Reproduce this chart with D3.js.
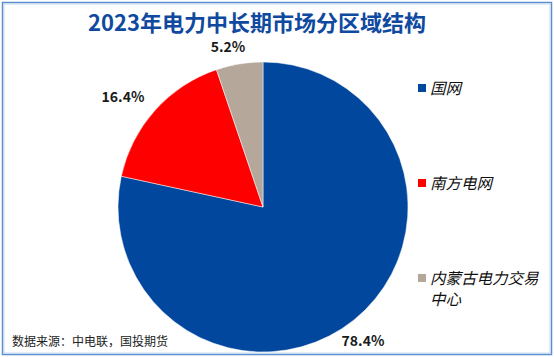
<!DOCTYPE html>
<html><head><meta charset="utf-8">
<script src="https://cdn.jsdelivr.net/npm/d3@7"></script>
<style>
html,body{margin:0;padding:0;background:#fff;}
svg{display:block;}
</style>
</head><body>
<svg id="chart" width="554" height="357"></svg>
<script>
const title = "2023年电力中长期市场分区域结构";
const categories = ["国网", "南方电网", "内蒙古电力交易中心"];
const legendLines = [["国网"], ["南方电网"], ["内蒙古电力交易", "中心"]];
const values = [78.4, 16.4, 5.2];
const colors = ["#00479d", "#ff0000", "#b6a79b"];
const sourceText = "数据来源：中电联，国投期货";

const svg = d3.select("#chart");
const W = 554, H = 357;
const font = "'Noto Sans CJK SC', 'Noto Sans', sans-serif";

// frame
svg.append("rect").attr("x", 2.5).attr("y", 2.5).attr("width", W - 5).attr("height", H - 5)
  .attr("fill", "none").attr("stroke", "#5b8fd0").attr("stroke-width", 1.5);
svg.append("rect").attr("x", 4).attr("y", 4).attr("width", W - 8).attr("height", H - 8)
  .attr("fill", "none").attr("stroke", "#b9cfea").attr("stroke-width", 0.8);

// title
svg.append("text").attr("x", 257).attr("y", 31).attr("text-anchor", "middle")
  .attr("font-family", font).attr("font-weight", "bold").attr("font-size", 22)
  .attr("fill", "#0f4aa0").text(title);

// pie
const cx = 263, cy = 207, r = 145;
const pie = d3.pie().sort(null).value(d => d)(values);
const arc = d3.arc().innerRadius(0).outerRadius(r);
const g = svg.append("g").attr("transform", `translate(${cx},${cy})`);
g.selectAll("path").data(pie).join("path")
  .attr("d", arc).attr("fill", (d, i) => colors[i])
  .attr("stroke", "#fff").attr("stroke-width", 0.5);

// data labels
const labelPos = [[363, 346], [123, 102], [228, 52]];
svg.selectAll("text.lbl").data(values).join("text").attr("class", "lbl")
  .attr("x", (d, i) => labelPos[i][0]).attr("y", (d, i) => labelPos[i][1])
  .attr("text-anchor", "middle").attr("font-family", font).attr("font-weight", "bold")
  .attr("font-size", 14).attr("fill", "#1a1a1a")
  .text(d => d.toFixed(1) + "%");

// legend
const legY = [88, 183, 278];
const leg = svg.selectAll("g.leg").data(categories).join("g").attr("class", "leg")
  .attr("transform", (d, i) => `translate(418,${legY[i]})`);
leg.append("rect").attr("x", 0).attr("y", -4).attr("width", 8).attr("height", 8)
  .attr("fill", (d, i) => colors[i]);
leg.each(function(d, i) {
  const gg = d3.select(this);
  legendLines[i].forEach((line, j) => {
    gg.append("text").attr("font-family", font).attr("font-style", "italic")
      .attr("font-size", 15.5).attr("fill", "#111")
      .attr("x", 12).attr("y", 6 + j * 21).text(line);
  });
});

// source
svg.append("text").attr("x", 12).attr("y", 346).attr("font-family", font)
  .attr("font-size", 12).attr("fill", "#222").text(sourceText);
</script>
</body></html>
